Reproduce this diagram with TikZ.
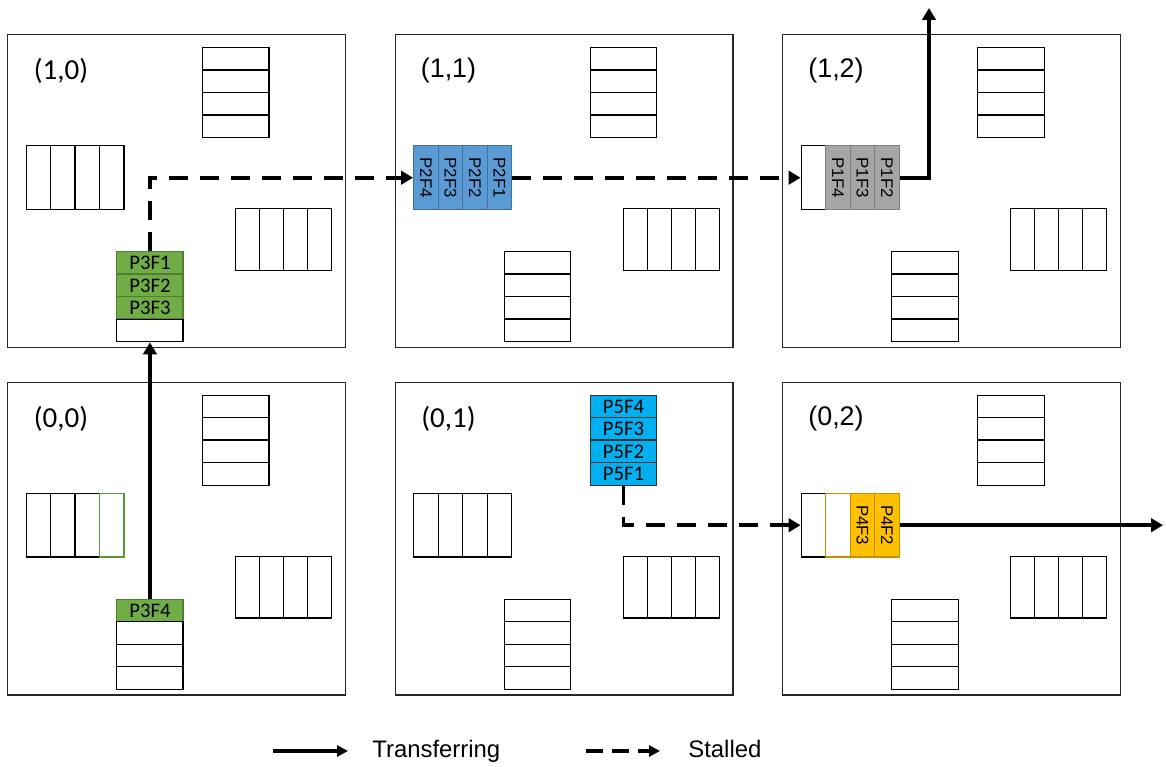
\documentclass[tikz,border=0pt]{standalone}
\usepackage{fontspec}
\setmainfont{Carlito}
\newfontfamily\arialfont{Liberation Sans}
\usetikzlibrary{arrows.meta}

\definecolor{pgreen}{HTML}{70AD47}
\definecolor{pgreenD}{HTML}{507E32}
\definecolor{pblue}{HTML}{5B9BD5}
\definecolor{pblueD}{HTML}{41719C}
\definecolor{pcyan}{HTML}{00B0F0}
\definecolor{pgray}{HTML}{A5A5A5}
\definecolor{pgrayD}{HTML}{7F7F7F}
\definecolor{porange}{HTML}{FFC000}
\definecolor{porangeD}{HTML}{BF9000}

% rotated flit label for horizontal buffers
\newcommand\rotlabel[1]{\rotatebox{-90}{\arialfont\fontsize{9.6}{10}\selectfont #1}}

\tikzset{
  tilebox/.style={draw=black!85, line width=0.8pt, minimum width=6.76cm,
    minimum height=6.26cm, inner sep=0pt, anchor=north west},
  lblC/.style={font=\fontsize{16.5}{17}\selectfont, inner sep=0pt},
  lblA/.style={font=\arialfont\fontsize{15.3}{16}\selectfont, inner sep=0pt},
  cell/.style={draw=black, line width=0.8pt, inner sep=0pt, anchor=north west,
    font=\fontsize{11.8}{12}\selectfont},
  vcell/.style={cell, minimum width=1.33cm, minimum height=0.45cm},
  hcell/.style={cell, minimum width=0.49cm, minimum height=1.28cm},
  ecell/.style={cell, minimum width=0.48cm, minimum height=1.24cm},
  e/.style={},
  gr/.style={fill=pgreen, draw=pgreenD},
  grl/.style={draw=pgreen!85!black},
  bl/.style={fill=pblue, draw=pblueD},
  cy/.style={fill=pcyan, draw=black!80},
  gy/.style={fill=pgray, draw=pgrayD},
  orl/.style={draw=porangeD},
  og/.style={fill=porange, draw=porangeD},
  xfer/.style={line width=2.2pt, -{Triangle[length=0.24cm, width=0.27cm]}},
  stall/.style={line width=2.2pt, dash pattern=on 10.8pt off 6.8pt,
    -{Triangle[length=0.24cm, width=0.27cm]}},
  legx/.style={line width=2pt, -{Triangle[length=0.22cm, width=0.22cm]}},
  legs/.style={line width=2pt, dash pattern=on 9.6pt off 5.2pt,
    -{Triangle[length=0.22cm, width=0.22cm]}},
  legtext/.style={font=\arialfont\fontsize{13.6}{14}\selectfont, inner sep=0pt, anchor=base west},
}

% one router tile: id, x, y, label, label style, north, west, east, south buffers
\newcommand\chiptile[9]{%
  \node[tilebox] (t#1) at (#2,#3) {};
  \node[#5] (t#1-lbl) at ({#2+54},{#3+37}) {#4};
  \foreach \st/\tx [count=\i] in {#6}
    \node[vcell,\st] (n#1-\i) at ({#2+195},{#3+13+(\i-1)*22.5}) {\tx};
  \foreach \st/\tx [count=\i] in {#7}
    \node[hcell,\st] (w#1-\i) at ({#2+18.5+(\i-1)*24.5},{#3+111}) {\tx};
  \foreach \st/\tx [count=\i] in {#8}
    \node[ecell,\st] (e#1-\i) at ({#2+228+(\i-1)*24},{#3+174}) {\tx};
  \foreach \st/\tx [count=\i] in {#9}
    \node[vcell,\st] (s#1-\i) at ({#2+109},{#3+217+(\i-1)*22.5}) {\tx};
}

\begin{document}
\begin{tikzpicture}[x=0.02cm, y=-0.02cm]
\useasboundingbox (0,0) rectangle (1166,767);

% top row
\chiptile{10}{7}{34}{(1,0)}{lblC}
  {e/{},e/{},e/{},e/{}}{e/{},e/{},e/{},e/{}}{e/{},e/{},e/{},e/{}}
  {gr/P3F1,gr/P3F2,gr/P3F3,e/{}}
\chiptile{11}{394.5}{34}{(1,1)}{lblA}
  {e/{},e/{},e/{},e/{}}
  {bl/\rotlabel{P2F4},bl/\rotlabel{P2F3},bl/\rotlabel{P2F2},bl/\rotlabel{P2F1}}
  {e/{},e/{},e/{},e/{}}{e/{},e/{},e/{},e/{}}
\chiptile{12}{782}{34}{(1,2)}{lblA}
  {e/{},e/{},e/{},e/{}}
  {e/{},gy/\rotlabel{P1F4},gy/\rotlabel{P1F3},gy/\rotlabel{P1F2}}
  {e/{},e/{},e/{},e/{}}{e/{},e/{},e/{},e/{}}

% bottom row
\chiptile{00}{7}{381.5}{(0,0)}{lblC}
  {e/{},e/{},e/{},e/{}}{e/{},e/{},e/{},grl/{}}{e/{},e/{},e/{},e/{}}
  {gr/P3F4,e/{},e/{},e/{}}
\chiptile{01}{394.5}{381.5}{(0,1)}{lblC}
  {cy/P5F4,cy/P5F3,cy/P5F2,cy/P5F1}
  {e/{},e/{},e/{},e/{}}{e/{},e/{},e/{},e/{}}{e/{},e/{},e/{},e/{}}
\chiptile{02}{782}{381.5}{(0,2)}{lblA}
  {e/{},e/{},e/{},e/{}}
  {e/{},orl/{},og/\rotlabel{P4F3},og/\rotlabel{P4F2}}
  {e/{},e/{},e/{},e/{}}{e/{},e/{},e/{},e/{}}

% packet paths
\coordinate (exitN) at (929,8);
\coordinate (exitE) at (1163,524.5);
\draw[xfer] (s00-1.north) -- (s10-4.south);
\draw[stall] (s10-1.north) |- (w11-1.west);
\draw[stall] (w11-4.east) -- (w12-1.west);
\draw[xfer] (w12-4.east) -| (exitN);
\draw[stall] (n01-4.south) |- (w02-1.west);
\draw[xfer] (w02-4.east) -- (exitE |- w02-4.east);

% legend
\coordinate (lgA) at (273,751);
\coordinate (lgB) at (348,751);
\coordinate (lgC) at (586,751);
\coordinate (lgD) at (660,751);
\draw[legx] (lgA) -- (lgB);
\node[legtext] (lgT) at (372,757) {Transferring};
\draw[legs] (lgC) -- (lgD);
\node[legtext] (lgS) at (688,757) {Stalled};
\end{tikzpicture}
\end{document}
